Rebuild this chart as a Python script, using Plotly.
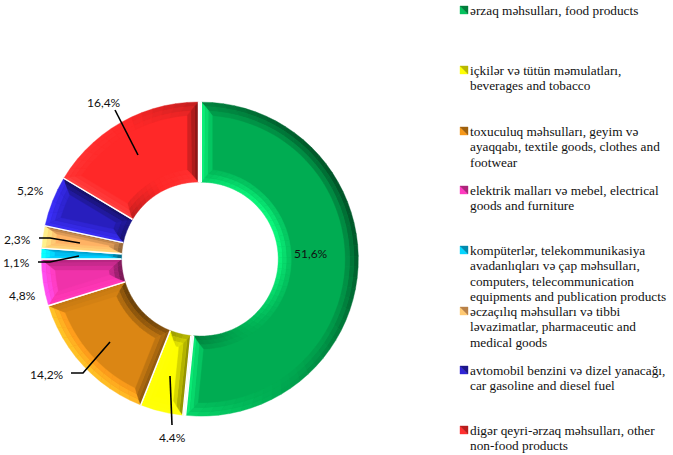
import math
import plotly.graph_objects as go

W, H = 673, 455

categories = [
    "ərzaq məhsulları, food products",
    "içkilər və tütün məmulatları,<br>beverages and tobacco",
    "toxuculuq məhsulları, geyim və<br>ayaqqabı, textile goods, clothes and<br>footwear",
    "elektrik malları və mebel, electrical<br>goods and furniture",
    "kompüterlər, telekommunikasiya<br>avadanlıqları və çap məhsulları,<br>computers, telecommunication<br>equipments and publication products",
    "əczaçılıq məhsulları və tibbi<br>ləvazimatlar, pharmaceutic and<br>medical goods",
    "avtomobil benzini və dizel yanacağı,<br>car gasoline and diesel fuel",
    "digər qeyri-ərzaq məhsulları, other<br>non-food products",
]
values = [51.6, 4.4, 14.2, 4.8, 1.1, 2.3, 5.2, 16.4]
value_labels = ["51,6%", "4.4%", "14,2%", "4,8%", "1,1%", "2,3%", "5,2%", "16,4%"]
colors = [(0, 172, 82), (255, 255, 0), (219, 134, 20), (240, 50, 170),
          (0, 190, 240), (255, 178, 100), (40, 30, 190), (255, 40, 40)]
pulls = [0.018, 0, 0, 0, 0, 0, 0, 0]

label_xy = [(311, 253), (172, 437), (47, 374), (22, 295), (16, 262), (17, 239), (30, 190), (104, 103)]
leaders = [None,
           [(172, 425), (170, 376)],
           [(71, 373), (83, 373), (110, 342)],
           None,
           [(38, 262), (50, 262), (79, 256)],
           [(39, 238), (50, 238), (80, 243)],
           None,
           [(115, 110), (138, 155)]]
legend_key_y = [6, 66, 127, 186, 246, 307, 366, 426]
legend_line_y = [10, 70, 131, 190, 250, 311, 370, 430]
LEGEND_STEP = 15.5

CX, CY, R = 198.5, 259.0, 157.0
HOLE = 0.49
RIM = 13.0
SIDE = 11.0
LIGHT = (-0.88, 0.47)  # screen x, screen y (down is positive)
BANDS = [(0.0, 0.34, 1.0), (0.34, 0.67, 0.72), (0.67, 1.0, 0.4)]


def paper(p):
    return p[0] / W, 1 - p[1] / H


def path(points):
    pts = [paper(p) for p in points]
    return "M " + " L ".join(f"{x:.5f},{y:.5f}" for x, y in pts) + " Z"


def shade(col, s):
    if s >= 0:
        f = 1 + 0.36 * s
        add = 12 * s
        c = [min(255, v * f + add) for v in col]
    else:
        f = 1 + 0.5 * s
        c = [v * f for v in col]
    return "rgb({:.0f},{:.0f},{:.0f})".format(*c)


def quad_shape(points, color):
    return dict(type="path", xref="paper", yref="paper", path=path(points),
                fillcolor=color, line=dict(color=color, width=0.4), layer="above")


shapes = []
total = sum(values)
start = 0.0
r_in = R * HOLE
for i, v in enumerate(values):
    a0 = start
    a1 = start + v / total * 2 * math.pi
    start = a1
    mid = (a0 + a1) / 2
    off = pulls[i] * R
    ox = CX + off * math.sin(mid)
    oy = CY - off * math.cos(mid)

    def pt(r, a):
        return (ox + r * math.sin(a), oy - r * math.cos(a))

    w = a1 - a0
    side = min(SIDE, 0.5 * w * r_in)
    d_out = min(math.asin(side / (R - RIM)), w / 2)
    d_in = min(math.asin(side / (r_in + RIM)), w / 2)
    n = max(2, int(w / math.radians(4)))

    for f0, f1, strength in BANDS:
        def oa(f, t):
            return a0 + f * d_out + t * (w - 2 * f * d_out)

        def ia(f, t):
            return a0 + f * d_in + t * (w - 2 * f * d_in)

        for k in range(n):
            t0, t1 = k / n, (k + 1) / n
            ta = a0 + (t0 + t1) / 2 * w
            nx, ny = math.sin(ta), -math.cos(ta)
            s = (nx * LIGHT[0] + ny * LIGHT[1]) * strength
            shapes.append(quad_shape([pt(R - f0 * RIM, oa(f0, t0)), pt(R - f0 * RIM, oa(f0, t1)),
                                      pt(R - f1 * RIM, oa(f1, t1)), pt(R - f1 * RIM, oa(f1, t0))],
                                     shade(colors[i], s)))
            shapes.append(quad_shape([pt(r_in + f0 * RIM, ia(f0, t0)), pt(r_in + f0 * RIM, ia(f0, t1)),
                                      pt(r_in + f1 * RIM, ia(f1, t1)), pt(r_in + f1 * RIM, ia(f1, t0))],
                                     shade(colors[i], -s)))
        for a_edge, sign in ((a0, -1), (a1, 1)):
            nx, ny = sign * math.cos(a_edge), sign * math.sin(a_edge)
            s = (nx * LIGHT[0] + ny * LIGHT[1]) * strength
            shapes.append(quad_shape(
                [pt(R - f0 * RIM, a_edge + sign * -f0 * d_out), pt(R - f1 * RIM, a_edge + sign * -f1 * d_out),
                 pt(r_in + f1 * RIM, a_edge + sign * -f1 * d_in), pt(r_in + f0 * RIM, a_edge + sign * -f0 * d_in)],
                shade(colors[i], s)))
    for a_edge in (a0, a1):
        p, q = paper(pt(r_in, a_edge)), paper(pt(R + 0.5, a_edge))
        shapes.append(dict(type="line", xref="paper", yref="paper", x0=p[0], y0=p[1], x1=q[0], y1=q[1],
                           line=dict(color="white", width=1.4), layer="above"))

for seg in leaders:
    if seg:
        shapes.append(dict(type="path", xref="paper", yref="paper",
                           path="M " + " L ".join("{:.5f},{:.5f}".format(*paper(p)) for p in seg),
                           line=dict(color="black", width=1.6), fillcolor="rgba(0,0,0,0)", layer="above"))

annotations = []
for txt, (x, y) in zip(value_labels, label_xy):
    px, py = paper((x, y))
    annotations.append(dict(text=txt, x=px, y=py, xref="paper", yref="paper", showarrow=False,
                            xanchor="center", yanchor="middle",
                            font=dict(family="Lato", size=12, color="#111111")))

for i, cat in enumerate(categories):
    ky = legend_key_y[i]
    shapes.append(quad_shape([(460, ky), (468, ky + 8), (460, ky + 8)], shade(colors[i], 0.3)))
    shapes.append(quad_shape([(460, ky), (468, ky), (468, ky + 8)], shade(colors[i], -0.55)))
    for j, line in enumerate(cat.split("<br>")):
        px, py = paper((469, legend_line_y[i] + j * LEGEND_STEP))
        annotations.append(dict(text=line, x=px, y=py, xref="paper", yref="paper", showarrow=False,
                                xanchor="left", yanchor="middle", align="left", borderpad=0,
                                font=dict(family="Liberation Serif", size=13.3, color="#111111")))

half = R * (1 + max(pulls))
fig = go.Figure(go.Pie(
    labels=[c.replace("<br>", " ") for c in categories],
    values=values, sort=False, direction="clockwise", rotation=0, hole=HOLE, pull=pulls,
    marker=dict(colors=["rgb({},{},{})".format(*c) for c in colors], line=dict(color="white", width=1.4)),
    textinfo="none", hoverinfo="label+percent", showlegend=False,
    domain=dict(x=[(CX - half) / W, (CX + half) / W], y=[1 - (CY + half) / H, 1 - (CY - half) / H]),
))
fig.update_layout(width=W, height=H, margin=dict(l=0, r=0, t=0, b=0), paper_bgcolor="white",
                  showlegend=False, shapes=shapes, annotations=annotations)
fig.write_html("out.html", config=dict(displayModeBar=False),
               post_script="document.body.style.margin='0';")
